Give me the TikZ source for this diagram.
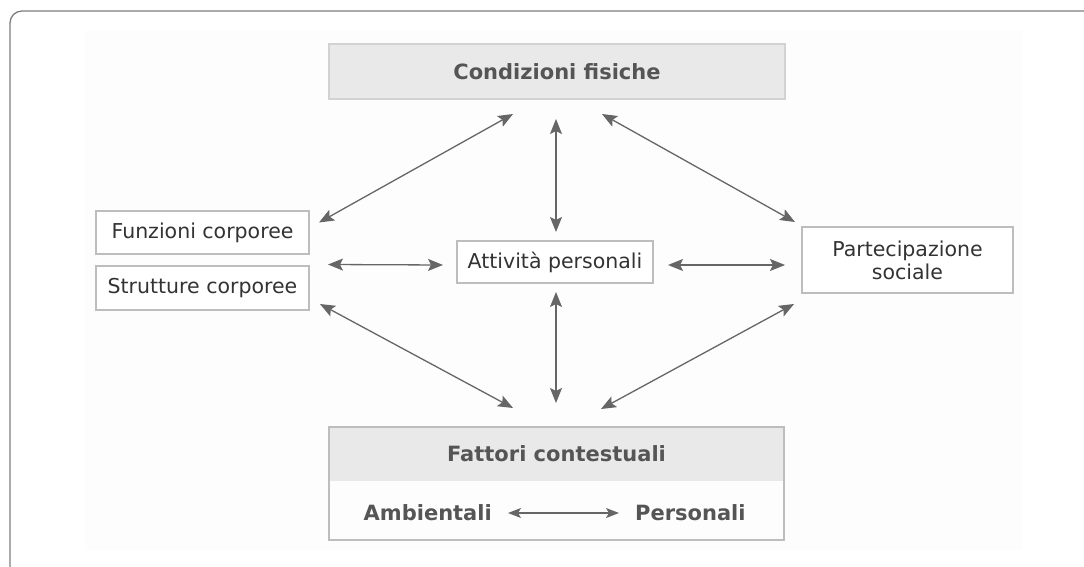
\documentclass[tikz,border=0pt]{standalone}
\usepackage{fontspec}
\setmainfont{DejaVu Sans}
\usetikzlibrary{arrows.meta,calc}
\definecolor{framec}{HTML}{7E7E7E}
\definecolor{bgfaint}{HTML}{FDFDFD}
\definecolor{boxline}{HTML}{BDBDBD}
\definecolor{hdrfill}{HTML}{E9E9E9}
\definecolor{hdrline}{HTML}{D2D2D2}
\definecolor{txt}{HTML}{333333}
\definecolor{btxt}{HTML}{555555}
\definecolor{arrc}{HTML}{666666}
\tikzset{
  plainbox/.style={draw=boxline,line width=1.2pt,fill=white,inner sep=0pt,outer sep=0pt,
    text=txt,font=\fontsize{20.5}{23}\selectfont,align=center},
  hdrbox/.style={fill=hdrfill,inner sep=0pt,outer sep=0pt,text=btxt,
    font=\fontsize{21}{24}\selectfont\bfseries},
  btext/.style={inner sep=0pt,text=btxt,font=\fontsize{21}{24}\selectfont\bfseries},
  dbl/.style={arrc,line width=1.3pt,{Stealth[length=15pt,width=12pt,inset=3pt]}-{Stealth[length=15pt,width=12pt,inset=3pt]}},
}
\begin{document}
\begin{tikzpicture}[x=1pt,y=-1pt]
\useasboundingbox (0,0) rectangle (1084,567);
\begin{scope}
\clip (0,0) rectangle (1084,567);
\draw[framec,line width=1.3pt,rounded corners=12pt] (10,11) rectangle (1110,600);
\end{scope}
\fill[bgfaint] (85,30) rectangle (1022,550);

% nodes
\node[hdrbox,draw=hdrline,line width=1.2pt,minimum width=456,minimum height=55] (cond) at (557,71.5) {Condizioni fisiche};
\node[plainbox,minimum width=213,minimum height=43] (funz) at (202.5,232.5) {Funzioni corporee};
\node[plainbox,minimum width=213,minimum height=44] (strut) at (202.5,288) {Strutture corporee};
\node[plainbox,minimum width=196,minimum height=42] (att) at (555,262) {Attività personali};
\node[plainbox,minimum width=211,minimum height=66] (part) at (907.5,260) {Partecipazione\\sociale};
\node[hdrbox,minimum width=455,minimum height=54] (fatt) at (556.5,454) {Fattori contestuali};
\node[inner sep=0pt,outer sep=0pt,minimum width=455,minimum height=59] (fattlow) at (556.5,510.5) {};
\draw[boxline,line width=1.2pt] (fatt.north west) rectangle (fattlow.south east);
\node[btext,anchor=east] (amb) at (492,513) {Ambientali};
\node[btext,anchor=west] (pers) at (635,513) {Personali};

% connectors
\draw[dbl] ($(cond.south)+(-44,15)$) -- ($(funz.east)+(10,-10)$);
\draw[dbl] ($(cond.south)+(-1,20)$) -- ($(att.north)+(1,-9)$);
\draw[dbl] ($(cond.south)+(45,15)$) -- ($(part.west)+(-7,-38)$);
\draw[dbl] ($(funz.east)+(19,32)$) -- ($(att.west)+(-14,3)$);
\draw[dbl] ($(att.east)+(15,3)$) -- ($(part.west)+(-17,5)$);
\draw[dbl] ($(att.south)+(1,9)$) -- ($(fatt.north)+(-0.5,-24)$);
\draw[dbl] ($(strut.east)+(11,16)$) -- ($(fatt.north)+(-43.5,-19)$);
\draw[dbl] ($(part.west)+(-8,44)$) -- ($(fatt.north)+(44.5,-18)$);
\draw[arrc,line width=1.1pt,{Stealth[length=13pt,width=10pt,inset=3pt]}-{Stealth[length=13pt,width=10pt,inset=3pt]}] ($(amb.east)+(16,0)$) -- ($(pers.west)+(-16,0)$);
\end{tikzpicture}
\end{document}
